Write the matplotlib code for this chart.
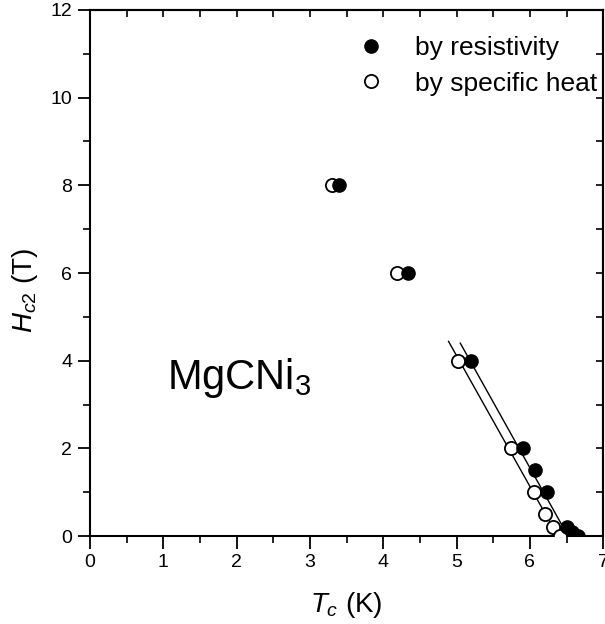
import matplotlib
matplotlib.use("Agg")
import matplotlib.pyplot as plt
from matplotlib.ticker import MultipleLocator

plt.rcParams["font.family"] = ["Liberation Sans", "DejaVu Sans"]
plt.rcParams["mathtext.fontset"] = "custom"
plt.rcParams["mathtext.rm"] = "Liberation Sans"
plt.rcParams["mathtext.it"] = "Liberation Sans:italic"

# Hc2 vs Tc for MgCNi3
res_T = [3.39, 4.34, 5.19, 5.90, 6.07, 6.23, 6.50, 6.58, 6.65]
res_H = [8.0, 6.0, 4.0, 2.0, 1.5, 1.0, 0.2, 0.1, 0.0]
heat_T = [3.30, 4.18, 5.02, 5.74, 6.06, 6.21, 6.31, 6.41]
heat_H = [8.0, 6.0, 4.0, 2.0, 1.0, 0.5, 0.2, 0.0]

# linear fits near Tc (end points of the drawn lines)
fit_res_T = [5.05, 6.52]
fit_res_H = [4.40, 0.0]
fit_heat_T = [4.89, 6.38]
fit_heat_H = [4.44, 0.0]

fig = plt.figure(figsize=(6.05, 6.24), dpi=100)
ax = fig.add_axes([0.149, 0.141, 0.848, 0.843])

ax.plot(fit_res_T, fit_res_H, color="black", lw=1.0, zorder=2)
ax.plot(fit_heat_T, fit_heat_H, color="black", lw=1.0, zorder=2)
ax.plot(heat_T, heat_H, "o", ms=9.5, mfc="white", mec="black", mew=1.3,
        ls="none", label="by specific heat", zorder=3)
ax.plot(res_T, res_H, "o", ms=9.5, mfc="black", mec="black",
        ls="none", label="by resistivity", zorder=4)

ax.set_xlim(0, 7)
ax.set_ylim(0, 12)
ax.xaxis.set_major_locator(MultipleLocator(1))
ax.xaxis.set_minor_locator(MultipleLocator(0.5))
ax.yaxis.set_major_locator(MultipleLocator(2))
ax.yaxis.set_minor_locator(MultipleLocator(1))
ax.tick_params(which="major", direction="out", length=9, width=1.3,
               labelsize=14, pad=4)
ax.tick_params(which="minor", direction="out", length=5, width=1.2)

# top and right: inward ticks, no labels
top = ax.secondary_xaxis("top")
top.set_xticks([i * 0.5 for i in range(15)])
top.tick_params(direction="in", length=5, width=1.2, labeltop=False)
right = ax.secondary_yaxis("right")
right.set_yticks(range(13))
right.tick_params(direction="in", length=5, width=1.2, labelright=False)
for a in (ax, top, right):
    for s in a.spines.values():
        s.set_linewidth(1.5)

ax.set_xlabel(r"$T_c$ (K)", fontsize=20)
ax.set_ylabel(r"$H_{c2}$ (T)", fontsize=20)
ax.xaxis.set_label_coords(0.5, -0.103)
ax.yaxis.set_label_coords(-0.097, 0.466)

ax.text(1.05, 3.6, r"MgCNi$_3$", fontsize=30, va="center", ha="left")

handles, labels = ax.get_legend_handles_labels()
ax.legend(handles[::-1], labels[::-1], loc="upper right", frameon=False,
          fontsize=19, handletextpad=0.9, borderaxespad=0.2,
          labelspacing=0.45, handlelength=1.5,
          bbox_to_anchor=(1.019, 0.981))

fig.savefig("out.png", dpi=100)
